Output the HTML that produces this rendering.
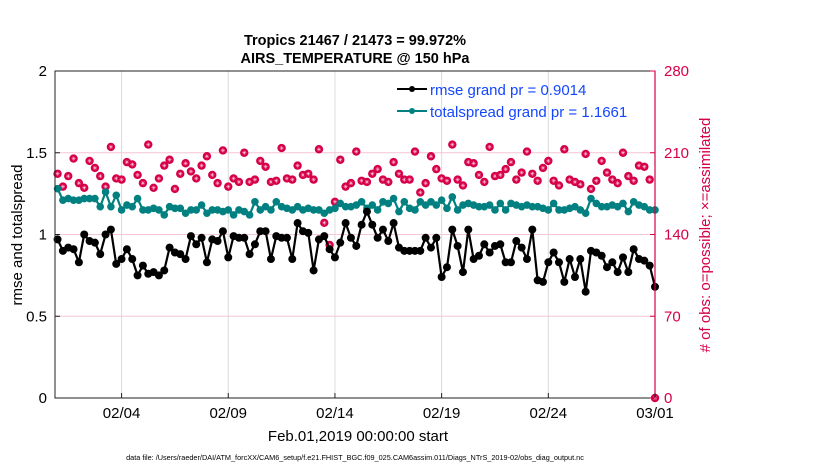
<!DOCTYPE html>
<html><head><meta charset="utf-8">
<style>
html,body{margin:0;padding:0;background:#fff;}
svg{display:block;font-family:"Liberation Sans",Arial,sans-serif;}
</style></head>
<body>
<svg id="chart" width="830" height="470" viewBox="0 0 830 470" xmlns="http://www.w3.org/2000/svg">
<text x="355" y="45" text-anchor="middle" font-size="14.5" font-weight="bold">Tropics 21467 / 21473 = 99.972%</text>
<text x="355" y="63" text-anchor="middle" font-size="14.5" font-weight="bold">AIRS_TEMPERATURE @ 150 hPa</text>
<g id="grid"></g>
<g id="series"></g>
<rect x="55" y="71" width="600" height="327" fill="none" stroke="#222" stroke-width="1"/>
<line x1="655" y1="71" x2="655" y2="398" stroke="#d6004a" stroke-width="1.2"/>
<g id="axes"></g>
<text transform="translate(22,235) rotate(-90)" text-anchor="middle" font-size="15">rmse and totalspread</text>
<text transform="translate(710,235) rotate(-90)" text-anchor="middle" font-size="15" fill="#d6004a"># of obs: o=possible; ×=assimilated</text>
<text x="358" y="441" text-anchor="middle" font-size="15">Feb.01,2019 00:00:00 start</text>
<text x="355" y="460" text-anchor="middle" font-size="7.3">data file: /Users/raeder/DAI/ATM_forcXX/CAM6_setup/f.e21.FHIST_BGC.f09_025.CAM6assim.011/Diags_NTrS_2019-02/obs_diag_output.nc</text>
<g id="legend">
 <g>
  <line x1="397" y1="89" x2="427" y2="89" stroke="#000" stroke-width="2"/>
  <circle cx="412" cy="89" r="3" fill="#000"/>
  <text x="430" y="95" font-size="15" fill="#1446ff">rmse grand pr = 0.9014</text>
 </g>
 <g>
  <line x1="397" y1="111" x2="427" y2="111" stroke="#008080" stroke-width="2"/>
  <circle cx="412" cy="111" r="3" fill="#008080"/>
  <text x="430" y="117" font-size="15" fill="#1446ff">totalspread grand pr = 1.1661</text>
 </g>
</g>
</svg>
<script>
const dateTicks = [3, 8, 13, 18, 23, 28];
const dateLabels = ["02/04", "02/09", "02/14", "02/19", "02/24", "03/01"];
const leftTicks = [0, 0.5, 1, 1.5, 2];
const leftTickLabels = ["0", "0.5", "1", "1.5", "2"];
const rightTicks = [0, 70, 140, 210, 280];
const rmse = [0.97,0.90,0.92,0.91,0.83,1.00,0.96,0.95,0.88,1.00,1.03,0.82,0.85,0.91,0.85,0.75,0.81,0.76,0.77,0.75,0.78,0.92,0.89,0.88,0.85,0.99,0.94,0.98,0.83,0.97,0.96,1.02,0.86,0.99,0.98,0.98,0.88,0.94,1.02,1.02,0.85,0.99,0.98,0.98,0.85,1.07,1.02,1.01,0.78,0.97,0.99,0.91,0.86,0.95,1.07,0.98,0.93,
1.06,1.14,1.06,0.98,1.03,0.96,1.07,0.92,0.90,0.90,0.90,0.90,0.98,0.92,0.98,0.74,0.80,1.03,0.93,0.77,1.03,0.85,0.87,0.94,0.89,0.93,0.94,0.83,0.83,0.96,0.92,0.85,1.03,0.72,0.71,0.83,0.89,0.83,0.71,0.85,0.74,0.85,0.65,0.90,0.89,0.87,0.80,0.83,0.77,0.86,0.77,0.91,0.85,0.84,0.81,0.68];
const spread = [1.28,1.21,1.22,1.21,1.21,1.22,1.22,1.22,1.17,1.26,1.17,1.24,1.15,1.18,1.17,1.22,1.15,1.15,1.16,1.15,1.12,1.17,1.16,1.16,1.13,1.15,1.15,1.18,1.13,1.15,1.15,1.14,1.15,1.12,1.15,1.14,1.12,1.20,1.15,1.17,1.15,1.20,1.17,1.16,1.15,1.17,1.15,1.16,1.15,1.15,1.13,1.15,1.16,1.19,1.17,1.17,1.18,
1.20,1.16,1.18,1.15,1.20,1.19,1.22,1.14,1.20,1.16,1.15,1.20,1.18,1.20,1.18,1.21,1.16,1.23,1.15,1.18,1.19,1.18,1.17,1.17,1.18,1.15,1.19,1.15,1.19,1.18,1.17,1.18,1.17,1.17,1.16,1.15,1.19,1.15,1.15,1.16,1.17,1.15,1.13,1.22,1.19,1.17,1.17,1.18,1.17,1.19,1.14,1.20,1.18,1.17,1.15,1.15];
const obsCount = [192,181,190,205,184,180,203,197,190,181,215,188,187,202,200,191,184,217,180,188,199,204,179,192,201,194,188,199,207,191,184,212,181,188,185,210,185,187,203,198,185,186,214,188,187,199,191,192,187,213,150,131,168,204,181,184,211,
186,185,192,196,187,185,202,192,187,187,211,176,184,207,196,188,186,217,187,182,202,201,191,185,215,190,191,196,202,187,193,211,192,186,197,203,186,182,213,187,185,183,209,179,186,203,193,187,184,210,190,186,199,198,187,0];

const NS = "http://www.w3.org/2000/svg";
const X0 = 55, X1 = 655, Y0 = 398, Y1 = 71;
const T0 = -0.12, T1 = 28;
function xScale(t){ return X0 + (t - T0) / (T1 - T0) * (X1 - X0); }
function yLeft(v){ return Y0 - v / 2 * (Y0 - Y1); }
function yRight(c){ return Y0 - c / 280 * (Y0 - Y1); }
function mk(tag, attrs, parent){ const e = document.createElementNS(NS, tag); for (const k in attrs) e.setAttribute(k, attrs[k]); parent.appendChild(e); return e; }

const grid = document.getElementById("grid");
const axes = document.getElementById("axes");
const series = document.getElementById("series");

dateTicks.forEach((d, i) => {
  const x = xScale(d);
  if (d < 28) {
    const g = mk("line", {x1:x, y1:Y1, x2:x, y2:Y0, stroke:"#dcdcdc", "stroke-width":1}, grid);
    
    
  }
  const tk = mk("line", {x1:x, y1:Y0, x2:x, y2:Y0-5, stroke:"#222"}, axes);
  
  
  const t = mk("text", {x:x, y:Y0+20, "text-anchor":"middle", "font-size":15}, axes);
  t.textContent = dateLabels[i];
  
  
});
rightTicks.forEach(c => {
  const y = yRight(c);
  if (c > 0 && c < 280) {
    const g = mk("line", {x1:X0, y1:y, x2:X1, y2:y, stroke:"#f6c6d6", "stroke-width":1}, grid);
    
    
  }
  const tk = mk("line", {x1:X1, y1:y, x2:X1-5, y2:y, stroke:"#d6004a"}, axes);
  
  
  const t = mk("text", {x:X1+9, y:y+5, "font-size":15, fill:"#d6004a"}, axes);
  t.textContent = String(c);
  
  
});
leftTicks.forEach((v, i) => {
  const y = yLeft(v);
  const tk = mk("line", {x1:X0, y1:y, x2:X0+5, y2:y, stroke:"#222"}, axes);
  
  
  const t = mk("text", {x:X0-8, y:y+5, "text-anchor":"end", "font-size":15}, axes);
  t.textContent = leftTickLabels[i];
  
  
});

obsCount.forEach((c, k) => {
  const x = xScale(k / 4), y = yRight(c);
  const g = mk("g", {}, series);
  
  
  mk("circle", {cx:x, cy:y, r:4.2, fill:"#d6004a"}, g);
  mk("path", {d:`M${x-2},${y}H${x+2}M${x},${y-2}V${y+2}M${x-1.4},${y-1.4}L${x+1.4},${y+1.4}M${x-1.4},${y+1.4}L${x+1.4},${y-1.4}`, stroke:"#ffd6e2", "stroke-width":0.5}, g);
});

function drawLine(vals, color, name, r){
  const pts = vals.map((v, k) => xScale(k / 4).toFixed(1) + "," + yLeft(v).toFixed(1)).join(" ");
  const pl = mk("polyline", {points:pts, fill:"none", stroke:color, "stroke-width":2.2, "stroke-linejoin":"round"}, series);
  
  
  vals.forEach((v, k) => {
    const c = mk("circle", {cx:xScale(k / 4), cy:yLeft(v), r:r, fill:color}, series);
    
    
  });
}
drawLine(spread, "#008080", "totalspread", 3.8);
drawLine(rmse, "#000000", "rmse", 4);
</script>
</body></html>
